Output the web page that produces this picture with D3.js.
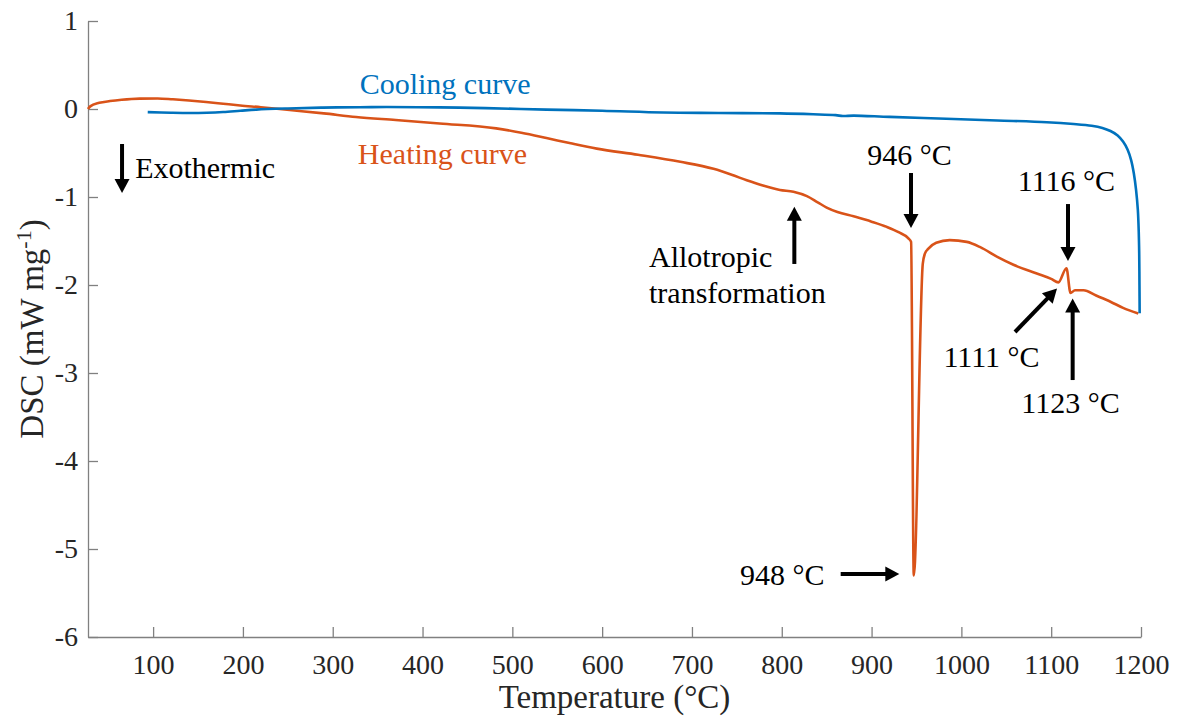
<!DOCTYPE html>
<html>
<head>
<meta charset="utf-8">
<script src="https://cdn.jsdelivr.net/npm/d3@7"></script>
<style>
  html, body { margin: 0; padding: 0; background: #fff; }
  svg { display: block; }
  svg text { font-family: "Liberation Serif", "Times New Roman", "DejaVu Serif", serif; }
</style>
</head>
<body>
<svg id="chart" width="1179" height="719"></svg>
<script>
// ---- Data ----
const heatT = [27.5, 30, 40, 52, 65, 85, 105, 122, 140, 159, 178, 197, 220, 252, 290, 326, 370, 419, 482, 510, 538, 565, 594, 640, 687, 724, 745, 761, 779, 798, 813, 828, 840, 850, 862, 880, 900, 917, 930, 941, 944, 947, 957, 959.5, 963, 972, 987, 1006, 1021, 1040, 1058, 1084, 1100, 1108, 1117, 1121.5, 1126.5, 1136, 1150, 1166, 1180, 1197];
const heatDSC = [0.0, 0.03, 0.07, 0.09, 0.105, 0.118, 0.12, 0.11, 0.097, 0.08, 0.06, 0.04, 0.02, -0.012, -0.05, -0.09, -0.125, -0.165, -0.22, -0.27, -0.33, -0.39, -0.45, -0.52, -0.60, -0.68, -0.75, -0.81, -0.87, -0.92, -0.94, -0.99, -1.06, -1.12, -1.17, -1.22, -1.28, -1.34, -1.40, -1.47, -1.51, -5.30, -1.76, -1.64, -1.59, -1.52, -1.49, -1.51, -1.57, -1.68, -1.77, -1.87, -1.93, -1.97, -1.81, -2.09, -2.06, -2.06, -2.12, -2.19, -2.26, -2.325];

const coolT = [94, 120, 141, 160, 178, 197, 215, 250, 289, 330, 360, 419, 470, 538, 600, 668, 730, 798, 835, 860, 868, 880, 920, 983, 1040, 1095, 1125, 1145, 1157, 1166, 1174, 1180, 1185, 1189, 1192, 1194.5, 1196.5, 1197.5, 1198, 1198.3, 1198.5];
const coolDSC = [-0.035, -0.042, -0.045, -0.042, -0.034, -0.02, -0.007, 0.006, 0.016, 0.02, 0.022, 0.018, 0.01, -0.007, -0.02, -0.04, -0.045, -0.05, -0.06, -0.07, -0.08, -0.075, -0.09, -0.11, -0.13, -0.15, -0.17, -0.19, -0.215, -0.25, -0.30, -0.37, -0.46, -0.58, -0.73, -0.92, -1.15, -1.40, -1.64, -2.0, -2.32];

const xTicks = [100, 200, 300, 400, 500, 600, 700, 800, 900, 1000, 1100, 1200];
const yTicks = [-6, -5, -4, -3, -2, -1, 0, 1];
const xDomain = [27.5, 1200];
const yDomain = [-6, 1];

// annotation texts (anchor points in data units: temperature, DSC)
const labels = [
  { text: "Cooling curve", t: 330, d: 0.17, anchor: "start", color: "#0072BD" },
  { text: "Heating curve", t: 328, d: -0.625, anchor: "start", color: "#D95319" },
  { text: "Exothermic", t: 80, d: -0.784, anchor: "start", color: "#000" },
  { text: "946 °C", t: 942.2, d: -0.636, anchor: "middle", color: "#000" },
  { text: "1116 °C", t: 1117, d: -0.932, anchor: "middle", color: "#000" },
  { text: "1111 °C", t: 1033.5, d: -2.932, anchor: "middle", color: "#000" },
  { text: "1123 °C", t: 1121.5, d: -3.455, anchor: "middle", color: "#000" },
  { text: "Allotropic", t: 652.2, d: -1.792, anchor: "start", color: "#000" },
  { text: "transformation", t: 652.2, d: -2.208, anchor: "start", color: "#000" },
  { text: "948 °C", t: 753.5, d: -5.409, anchor: "start", color: "#000" }
];
// arrows: tail (t1,d1) -> tip (t2,d2)
const arrows = [
  { t1: 65.4, d1: -0.398, t2: 65.4, d2: -0.955 },
  { t1: 943.9, d1: -0.727, t2: 943.9, d2: -1.352 },
  { t1: 1118.7, d1: -1.080, t2: 1118.7, d2: -1.727 },
  { t1: 1059.7, d1: -2.534, t2: 1106.5, d2: -2.040 },
  { t1: 1123.9, d1: -3.080, t2: 1123.9, d2: -2.153 },
  { t1: 814.0, d1: -1.761, t2: 814.0, d2: -1.110 },
  { t1: 865.6, d1: -5.284, t2: 930.9, d2: -5.284 }
];

// ---- Layout ----
const FONT = "Liberation Serif, Times New Roman, DejaVu Serif, serif";
const svg = d3.select("#chart").attr("font-family", FONT);
const x = d3.scaleLinear().domain(xDomain).range([88, 1141]);
const y = d3.scaleLinear().domain(yDomain).range([637, 21]);

const axisColor = "#808080";
const textColor = "#262626";
const fmt = d => String(d);

// X axis
const gx = svg.append("g").attr("transform", `translate(0,${y(-6)})`)
  .call(d3.axisBottom(x).tickValues(xTicks).tickFormat(fmt).tickSizeInner(-10).tickSizeOuter(0).tickPadding(17));
// Y axis
const gy = svg.append("g").attr("transform", `translate(${x(xDomain[0])},0)`)
  .call(d3.axisLeft(y).tickValues(yTicks).tickFormat(fmt).tickSizeInner(-10).tickSizeOuter(0).tickPadding(10));

[gx, gy].forEach(g => {
  g.attr("font-family", FONT).attr("font-size", 28);
  g.select(".domain").attr("stroke", axisColor).attr("stroke-width", 1.3);
  g.selectAll(".tick line").attr("stroke", axisColor).attr("stroke-width", 1.3);
  g.selectAll(".tick text").attr("fill", textColor).attr("font-family", FONT).attr("font-size", 28);
});

// Axis titles
svg.append("text")
  .attr("x", (x.range()[0] + x.range()[1]) / 2).attr("y", 708)
  .attr("text-anchor", "middle").attr("fill", textColor)
  .attr("font-family", FONT).attr("font-size", 33)
  .text("Temperature (°C)");

const yl = svg.append("text")
  .attr("transform", `translate(43,${(y.range()[0] + y.range()[1]) / 2}) rotate(-90)`)
  .attr("text-anchor", "middle").attr("fill", textColor)
  .attr("font-family", FONT).attr("font-size", 33);
yl.append("tspan").text("DSC (mW mg");
yl.append("tspan").attr("dy", -12).attr("font-size", 22).text("-1");
yl.append("tspan").attr("dy", 12).text(")");

// Curves
const heat = heatT.map((t, i) => [t, heatDSC[i]]);
const cool = coolT.map((t, i) => [t, coolDSC[i]]);

svg.append("path").datum(heat)
  .attr("fill", "none").attr("stroke", "#D95319").attr("stroke-width", 2.6)
  .attr("stroke-linejoin", "round")
  .attr("d", d3.line().x(d => x(d[0])).y(d => y(d[1])).curve(d3.curveMonotoneX));

svg.append("path").datum(cool)
  .attr("fill", "none").attr("stroke", "#0072BD").attr("stroke-width", 2.6)
  .attr("stroke-linejoin", "round")
  .attr("d", d3.line().x(d => x(d[0])).y(d => y(d[1])).curve(d3.curveCatmullRom.alpha(0.5)));

// Annotation texts
svg.selectAll("text.ann").data(labels).enter().append("text")
  .attr("class", "ann")
  .attr("x", d => x(d.t)).attr("y", d => y(d.d))
  .attr("text-anchor", d => d.anchor)
  .attr("fill", d => d.color)
  .attr("font-family", FONT).attr("font-size", 30)
  .text(d => d.text);

// Arrows
const headLen = 14, headHalf = 7.5, shaft = 4;
arrows.forEach(a => {
  const x1 = x(a.t1), y1 = y(a.d1), x2 = x(a.t2), y2 = y(a.d2);
  const dx = x2 - x1, dy = y2 - y1, L = Math.hypot(dx, dy);
  const ux = dx / L, uy = dy / L, px = -uy, py = ux;
  const bx = x2 - ux * headLen, by = y2 - uy * headLen;
  svg.append("line").attr("x1", x1).attr("y1", y1).attr("x2", bx + ux).attr("y2", by + uy)
    .attr("stroke", "#000").attr("stroke-width", shaft);
  svg.append("path")
    .attr("d", `M${x2},${y2}L${bx + px * headHalf},${by + py * headHalf}L${bx - px * headHalf},${by - py * headHalf}Z`)
    .attr("fill", "#000");
});
</script>
</body>
</html>
